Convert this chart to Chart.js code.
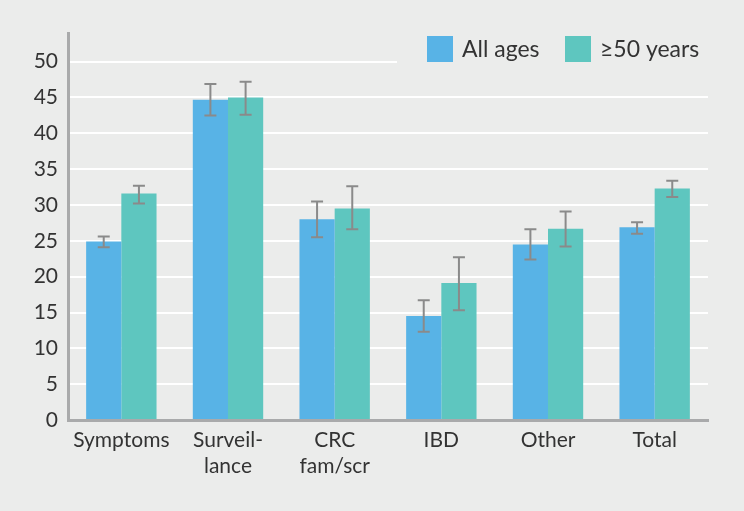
<!DOCTYPE html>
<html>
<head>
<meta charset="utf-8">
<script src="https://cdn.jsdelivr.net/npm/chart.js@4/dist/chart.umd.min.js"></script>
<style>
    html, body { margin: 0; padding: 0; background: #ebeceb; }
    #wrap { width: 744px; height: 511px; }
</style>
</head>
<body>
<div id="wrap"><canvas id="chart" width="744" height="511"></canvas></div>
<script>
const categories = ["Symptoms", ["Surveil-", "lance"], ["CRC", "fam/scr"], "IBD", "Other", "Total"];
const seriesNames = ["All ages", "≥50 years"];
const allAges = [24.9, 44.7, 28.0, 14.5, 24.5, 26.9];
const allAgesLow = [24.1, 42.5, 25.5, 12.3, 22.4, 26.0];
const allAgesHigh = [25.6, 46.9, 30.5, 16.7, 26.6, 27.6];
const over50 = [31.6, 45.0, 29.5, 19.1, 26.7, 32.3];
const over50Low = [30.2, 42.6, 26.6, 15.3, 24.2, 31.1];
const over50High = [32.7, 47.2, 32.6, 22.7, 29.1, 33.4];
const yTicks = [0, 5, 10, 15, 20, 25, 30, 35, 40, 45, 50];

const BG = "#ebeceb";
const FONT = "Lato, 'Open Sans', sans-serif";
const colors = ["#58b3e6", "#5ec6bf"];

// error bars drawn through the scales
const errorBars = {
    id: "errorBars",
    afterDatasetsDraw(chart) {
        const c = chart.ctx;
        const y = chart.scales.y;
        const ranges = [[allAgesLow, allAgesHigh], [over50Low, over50High]];
        c.save();
        c.strokeStyle = "#8a8a8a";
        c.lineWidth = 2;
        ranges.forEach((r, di) => {
            chart.getDatasetMeta(di).data.forEach((bar, i) => {
                const x = bar.x;
                const yl = y.getPixelForValue(r[0][i]);
                const yh = y.getPixelForValue(r[1][i]);
                c.beginPath();
                c.moveTo(x, yl); c.lineTo(x, yh);
                c.moveTo(x - 6, yl); c.lineTo(x + 6, yl);
                c.moveTo(x - 6, yh); c.lineTo(x + 6, yh);
                c.stroke();
            });
        });
        c.restore();
    }
};

// legend sits inside the plot, on a plain patch over the top gridline
const insideLegend = {
    id: "insideLegend",
    beforeDatasetsDraw(chart) {
        const a = chart.chartArea;
        const c = chart.ctx;
        c.save();
        c.fillStyle = BG;
        c.fillRect(a.right - 311, a.top, 312, 52);
        c.restore();
    },
    afterDraw(chart) {
        const a = chart.chartArea;
        const c = chart.ctx;
        const starts = [a.right - 281, a.right - 143];
        c.save();
        c.font = "23px " + FONT;
        c.textBaseline = "middle";
        c.fillStyle = "#333";
        chart.data.datasets.forEach((ds, i) => {
            c.fillStyle = ds.backgroundColor;
            c.fillRect(starts[i], a.top + 3, 26, 26);
            c.fillStyle = "#333";
            c.fillText(ds.label, starts[i] + 35, a.top + 17);
        });
        c.restore();
    }
};

new Chart(document.getElementById("chart"), {
    type: "bar",
    data: {
        labels: categories,
        datasets: [
            { label: seriesNames[0], data: allAges, backgroundColor: colors[0] },
            { label: seriesNames[1], data: over50, backgroundColor: colors[1] }
        ]
    },
    options: {
        responsive: false,
        animation: false,
        layout: { padding: { left: 0, right: 36, top: 33, bottom: 0 } },
        datasets: { bar: { categoryPercentage: 0.66, barPercentage: 1.0 } },
        scales: {
            x: {
                grid: { display: false, drawTicks: false },
                border: { color: "#a9aaab", width: 3 },
                ticks: { color: "#333", padding: 8, font: { family: FONT, size: 21, lineHeight: 1.2 }, maxRotation: 0 },
                afterFit: s => { s.height = 91; }
            },
            y: {
                min: 0,
                max: 54,
                afterBuildTicks: axis => { axis.ticks = yTicks.map(v => ({ value: v })); },
                grid: { color: "#ffffff", lineWidth: 2, drawTicks: false },
                border: { color: "#a9aaab", width: 3 },
                ticks: { color: "#333", padding: 10, font: { family: FONT, size: 21 } },
                afterFit: s => { s.width = 68; }
            }
        },
        plugins: {
            legend: { display: false },
            tooltip: { enabled: false }
        }
    },
    plugins: [insideLegend, errorBars]
});
</script>
</body>
</html>
